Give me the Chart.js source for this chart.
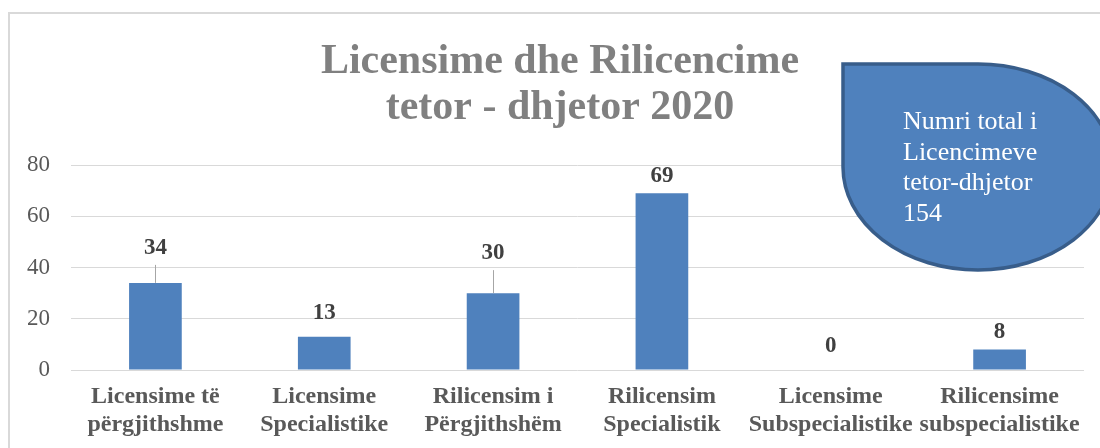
<!DOCTYPE html>
<html>
<head>
<meta charset="utf-8">
<script src="https://cdn.jsdelivr.net/npm/chart.js@4"></script>
<style>
  body { margin: 0; background: #fff; }
  canvas { display: block; }
</style>
</head>
<body>
<canvas id="licChart" width="1100" height="448"></canvas>
<script>
const categories = [
  ["Licensime të", "përgjithshme"],
  ["Licensime", "Specialistike"],
  ["Rilicensim i", "Përgjithshëm"],
  ["Rilicensim", "Specialistik"],
  ["Licensime", "Subspecialistike"],
  ["Rilicensime", "subspecialistike"]
];
const licenseCounts = [34, 13, 30, 69, 0, 8];
const yTicks = [0, 20, 40, 60, 80];
const titleLines = ["Licensime dhe Rilicencime", "tetor - dhjetor 2020"];

const total = licenseCounts.reduce((a, b) => a + b, 0);
const calloutLines = ["Numri total i", "Licencimeve", "tetor-dhjetor", String(total)];

const serif = "'Liberation Serif', 'Times New Roman', serif";

// light grey frame around the whole chart, cut off on the right/bottom
const framePlugin = {
  id: "frame",
  beforeDraw(chart) {
    const ctx = chart.ctx;
    ctx.save();
    ctx.fillStyle = "#fff";
    ctx.fillRect(0, 0, chart.width, chart.height);
    ctx.strokeStyle = "#d9d9d9";
    ctx.lineWidth = 2;
    ctx.strokeRect(9, 13, chart.width + 20, chart.height + 20);
    ctx.restore();
  }
};

// two-line grey title, centred a bit left of the plot centre
const titlePlugin = {
  id: "bigTitle",
  afterDraw(chart) {
    const ctx = chart.ctx;
    ctx.save();
    ctx.font = "bold 42px " + serif;
    ctx.fillStyle = "#808080";
    ctx.textAlign = "center";
    ctx.textBaseline = "alphabetic";
    titleLines.forEach((line, i) => {
      ctx.fillText(line, 560, 73 + i * 45.5);
    });
    ctx.restore();
  }
};

// value labels above bars, some pushed up with a leader line
const valueLabelPlugin = {
  id: "valueLabels",
  afterDatasetsDraw(chart, args, opts) {
    const ctx = chart.ctx;
    const meta = chart.getDatasetMeta(0);
    ctx.save();
    ctx.font = "bold 23px " + serif;
    ctx.fillStyle = "#404040";
    ctx.textAlign = "center";
    ctx.textBaseline = "middle";
    meta.data.forEach((bar, i) => {
      const off = opts.offsets[i];
      const y = bar.y - off;
      ctx.fillText(String(licenseCounts[i]), bar.x, y);
      if (off > 30) {
        ctx.strokeStyle = "#a6a6a6";
        ctx.lineWidth = 1;
        ctx.beginPath();
        ctx.moveTo(Math.round(bar.x) + 0.5, y + 17);
        ctx.lineTo(Math.round(bar.x) + 0.5, bar.y);
        ctx.stroke();
      }
    });
    ctx.restore();
  }
};

// rounded callout box in the top-right corner
const calloutPlugin = {
  id: "callout",
  afterDraw(chart) {
    const ctx = chart.ctx;
    const left = 843, top = 64, cx = 978, cy = 167, rx = 135, ry = 103;
    ctx.save();
    ctx.beginPath();
    ctx.moveTo(left, top);
    ctx.lineTo(cx, top);
    ctx.ellipse(cx, cy, rx, ry, 0, -Math.PI / 2, Math.PI);
    ctx.closePath();
    ctx.fillStyle = "#4f81bd";
    ctx.fill();
    ctx.strokeStyle = "#385d8a";
    ctx.lineWidth = 3.5;
    ctx.stroke();

    ctx.font = "26px " + serif;
    ctx.fillStyle = "#fff";
    ctx.textAlign = "left";
    ctx.textBaseline = "alphabetic";
    calloutLines.forEach((line, i) => {
      ctx.fillText(line, 903, 129 + i * 30.5);
    });
    ctx.restore();
  }
};

const ctx = document.getElementById("licChart").getContext("2d");

new Chart(ctx, {
  type: "bar",
  data: {
    labels: categories,
    datasets: [{
      data: licenseCounts,
      backgroundColor: "#4f81bd",
      borderWidth: 0,
      barPercentage: 0.312,
      categoryPercentage: 1
    }]
  },
  options: {
    responsive: false,
    animation: false,
    layout: {
      padding: { left: 20, right: 16, top: 165, bottom: 9 }
    },
    plugins: {
      legend: { display: false },
      tooltip: { enabled: false },
      title: { display: false },
      valueLabels: {
        offsets: [35, 23.5, 40, 17, 24, 17.5]
      }
    },
    scales: {
      x: {
        grid: { display: false, drawTicks: false },
        border: { display: false },
        ticks: {
          color: "#595959",
          padding: 13,
          maxRotation: 0,
          autoSkip: false,
          font: { family: serif, size: 24, weight: "bold", lineHeight: 1.17 }
        },
        afterFit(scale) { scale.height = 69; }
      },
      y: {
        min: 0,
        max: 80,
        grid: { color: "#d9d9d9", lineWidth: 1, drawTicks: false },
        border: { display: false },
        ticks: {
          color: "#595959",
          padding: 21,
          font: { family: serif, size: 23 }
        },
        afterBuildTicks(scale) {
          scale.ticks = yTicks.map(v => ({ value: v }));
        },
        afterFit(scale) { scale.width = 51; }
      }
    }
  },
  plugins: [framePlugin, valueLabelPlugin, titlePlugin, calloutPlugin]
});
</script>
</body>
</html>
